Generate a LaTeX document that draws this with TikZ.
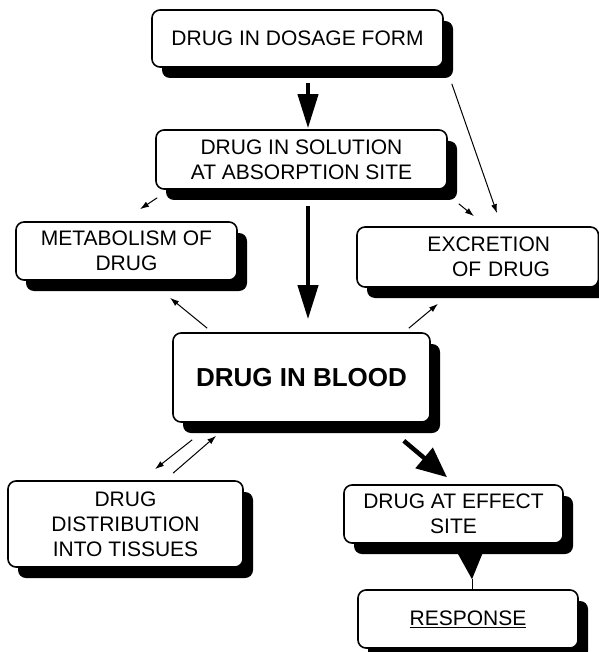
\documentclass[tikz,border=0pt]{standalone}
\usepackage{fontspec}
\setmainfont{Liberation Sans}
\usetikzlibrary{arrows.meta,shadows}
\tikzset{
  box/.style={draw=black, fill=white, line width=1.6pt, rounded corners=8pt,
    inner sep=0pt, align=center,
    font=\fontsize{21}{25}\selectfont,
    drop shadow={shadow xshift=10pt, shadow yshift=-11pt, fill=black, opacity=1}},
  bigarrow/.style={line width=4pt, -{Triangle[length=34pt,width=20pt]}},
  diagarrow/.style={line width=4.5pt, -{Triangle[length=30pt,width=26pt]}},
  thinarrow/.style={line width=1pt, -{Latex[length=9pt,width=6pt]}}
}
\begin{document}
\begin{tikzpicture}[x=1pt,y=-1pt]
\useasboundingbox (0,0) rectangle (598,652);
\node[box, minimum width=291pt, minimum height=57pt] (b1) at (297.5,38.5) {DRUG IN DOSAGE FORM};
\node[box, minimum width=291pt, minimum height=59pt] (b2) at (301.5,159.5) {DRUG IN SOLUTION\\AT ABSORPTION SITE};
\node[box, minimum width=221pt, minimum height=58pt] (b3) at (126.5,251) {METABOLISM OF\\DRUG};
\node[box, minimum width=241.5pt, minimum height=60pt, text width=144.5pt, align=right] (b4) at (477.75,257) {EXCRETION\\OF DRUG};
\node[box, minimum width=257pt, minimum height=89pt, font=\bfseries\fontsize{26}{30}\selectfont] (b5) at (301.5,377.5) {DRUG IN BLOOD};
\node[box, minimum width=235pt, minimum height=86pt] (b6) at (125.5,524) {DRUG\\DISTRIBUTION\\INTO TISSUES};
\node[box, minimum width=219pt, minimum height=58pt] (b7) at (453.5,514) {DRUG AT EFFECT\\SITE};
\node[box, minimum width=220pt, minimum height=58pt] (b8) at (468,619) {\underline{RESPONSE}};

% thick arrows
\draw[bigarrow] ([xshift=10.5pt,yshift=-15pt]b1.south) -- ([xshift=6.5pt,yshift=1pt]b2.north);
\draw[bigarrow] ([xshift=6.5pt,yshift=-16pt]b2.south) -- ([xshift=6.5pt,yshift=13pt]b5.north);
\draw[diagarrow] ([xshift=-27pt,yshift=-18pt]b5.south east) -- ([xshift=-6.5pt,yshift=7pt]b7.north);

% thin arrows
\draw[thinarrow] ([xshift=2pt,yshift=-8pt]b2.south west) -- ([xshift=13.5pt,yshift=12pt]b3.north);
\draw[thinarrow] ([xshift=11pt,yshift=-14pt]b2.south east) -- ([xshift=-3.75pt,yshift=10pt]b4.north);
\draw[thinarrow] ([xshift=8pt,yshift=-16pt]b1.south east) -- ([xshift=19.25pt,yshift=13pt]b4.north);
\draw[thinarrow] ([xshift=35pt,yshift=4pt]b5.north west) -- ([xshift=43.5pt,yshift=-17pt]b3.south);
\draw[thinarrow] ([xshift=-22pt,yshift=4pt]b5.north east) -- ([xshift=-39.75pt,yshift=-16pt]b4.south);
\draw[thinarrow] ([xshift=20pt,yshift=-17pt]b5.south west) -- ([xshift=29.5pt,yshift=11pt]b6.north);
\draw[thinarrow] ([xshift=47.5pt,yshift=7pt]b6.north) -- ([xshift=44pt,yshift=-13pt]b5.south west);

% effect site -> response
\coordinate (rtip) at ([xshift=4pt,yshift=10pt]b8.north);
\fill ([xshift=-15pt,yshift=27pt]rtip) -- ([xshift=11pt,yshift=27pt]rtip) -- (rtip) -- cycle;
\draw[line width=1pt] (rtip) -- (rtip |- b8.north);
\end{tikzpicture}
\end{document}
